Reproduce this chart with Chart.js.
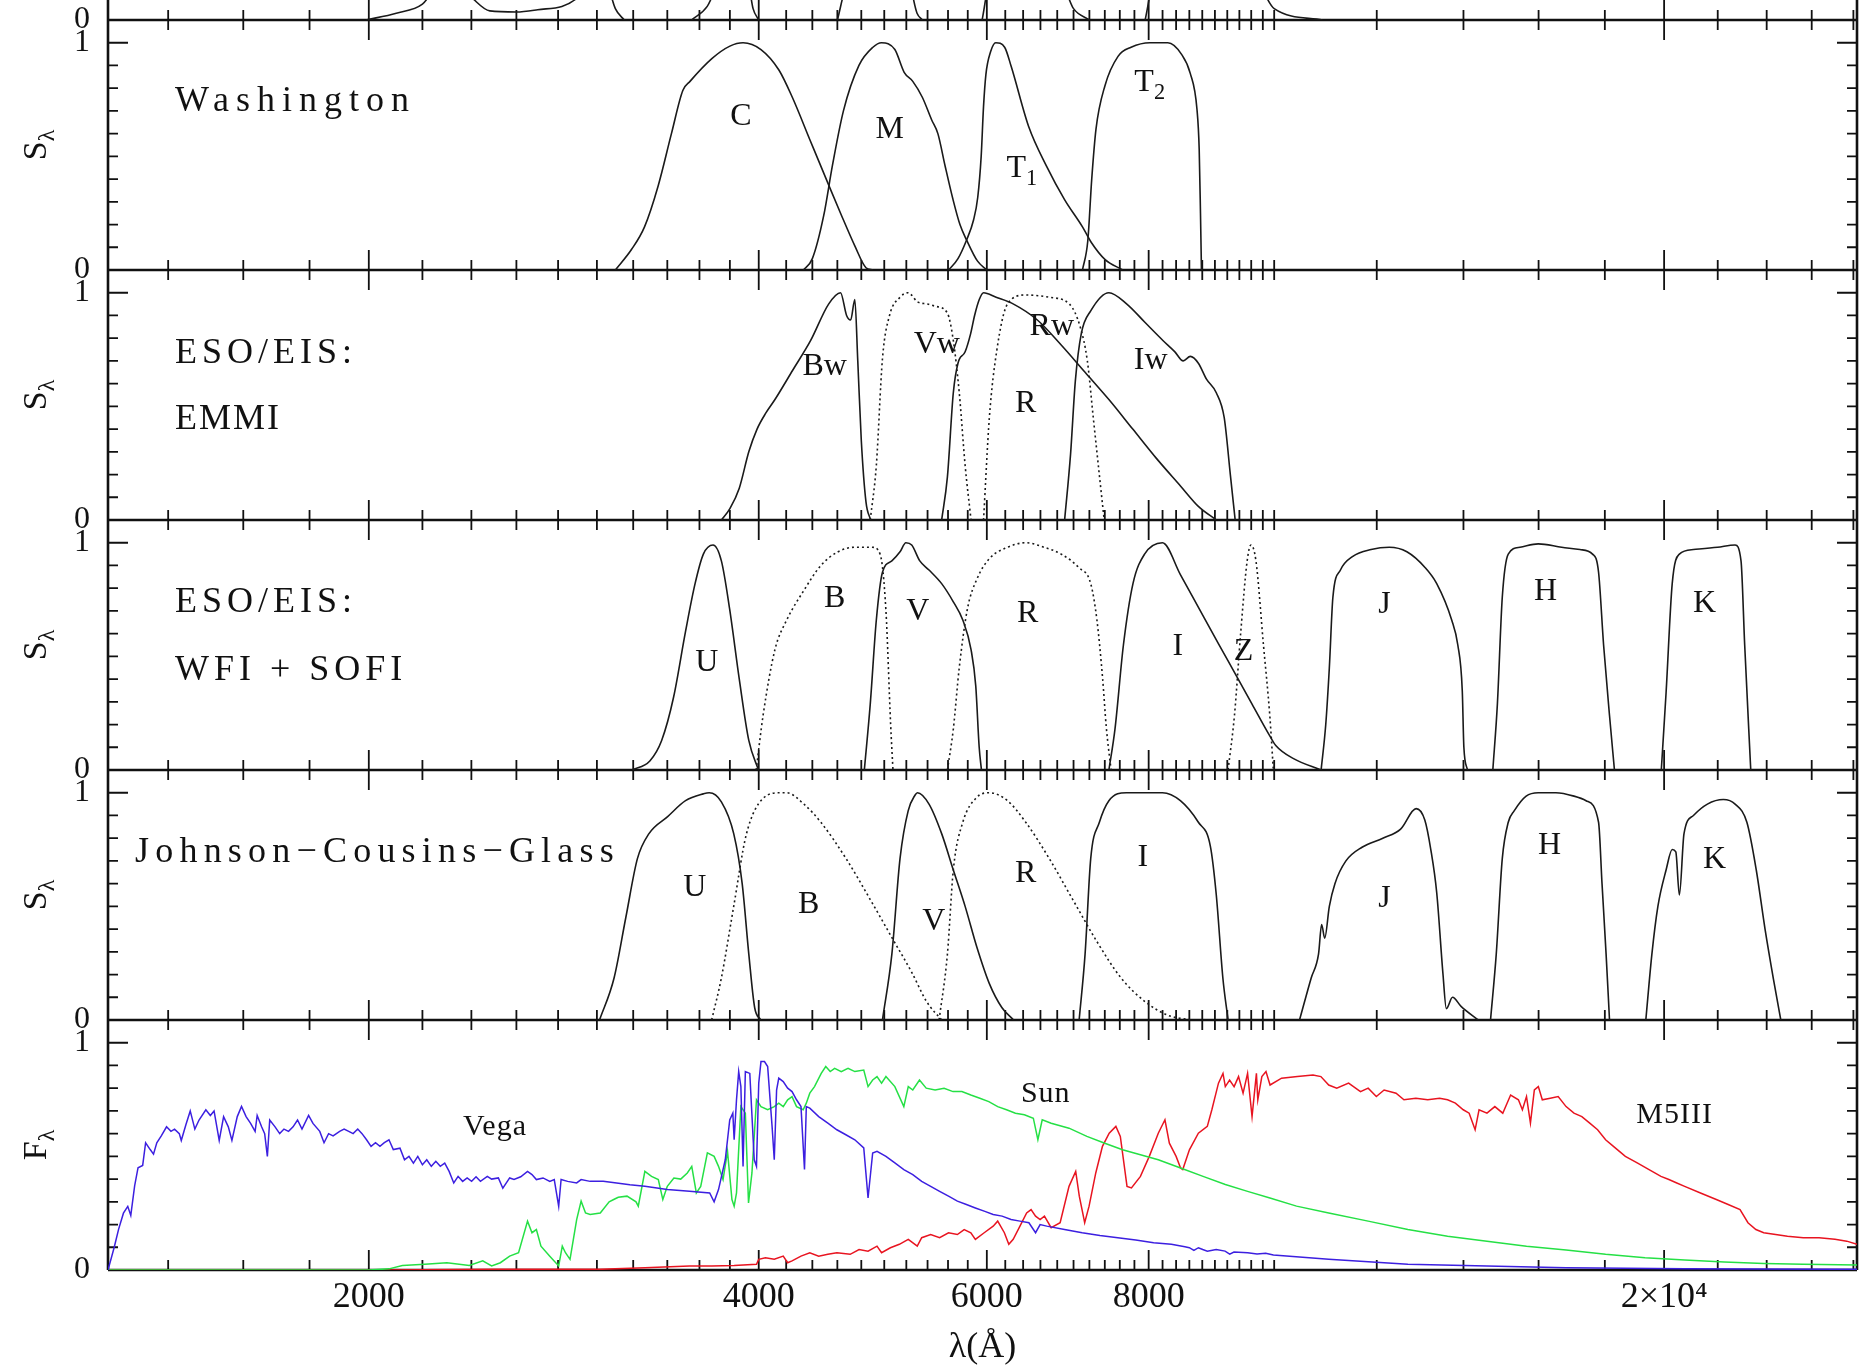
<!DOCTYPE html>
<html>
<head>
<meta charset="utf-8">
<title>Filter systems and stellar spectra</title>
<script src="https://cdn.jsdelivr.net/npm/chart.js@4.4.1/dist/chart.umd.min.js"></script>
<style>
  html, body { margin: 0; padding: 0; background: #fff; }
  #wrap { position: relative; width: 1870px; height: 1369px; overflow: hidden; }
  #wrap canvas { position: absolute; left: 0; top: 0; }
  .lbl { position: absolute; font-family: 'Liberation Serif', 'Times New Roman', serif; color: #111; white-space: nowrap; line-height: 1; }
  .lbl sub { font-size: 70%; vertical-align: -0.35em; line-height: 0; }
  .title { font-size: 36px; letter-spacing: 5px; }
  .band { font-size: 32px; }
  .spec { font-size: 30px; letter-spacing: 1px; }
  .axt { font-size: 34px; }
</style>
</head>
<body>
<div id="wrap"><canvas id="chart" width="1870" height="1369"></canvas></div>
<script>
// ---- axis ticks ----
const xTickValues = [2000, 4000, 6000, 8000, 20000];
const xTickLabels = ['2000', '4000', '6000', '8000', '2×10⁴'];
const xTickMarks = [1400, 1600, 1800, 2000, 2200, 2400, 2600, 2800, 3000, 3200, 3400, 3600, 3800,
  4000, 4200, 4400, 4600, 4800, 5000, 5200, 5400, 5600, 5800, 6000, 6200, 6400, 6600, 6800,
  7000, 7200, 7400, 7600, 7800, 8000, 8200, 8400, 8600, 8800, 9000, 9200, 9400, 9600, 9800,
  10000, 12000, 14000, 16000, 18000, 20000, 22000, 24000, 26000, 28000];
const yLabelValues = [0, 1];
const yTickMarks = [0.1, 0.2, 0.3, 0.4, 0.5, 0.6, 0.7, 0.8, 0.9, 1.0];

// ---- top (cut off) panel: only the feet of the curves show ----
const topA = [[1990,0],[2100,0.03],[2200,0.07],[2300,0.2],[2400,0.1],[2480,0.04],[2600,0.035],[2700,0.045],[2900,0.1],[3000,0.3],[3100,0.05],[3150,0]];
const topB = [[3550,0],[3650,0.06],[3750,0.2],[3900,0.25],[3960,0.05],[4000,0]];
const topC = [[4600,0],[4680,0.15],[5200,0.2],[5300,0.03],[5350,0]];
const topD = [[5950,0],[6050,0.2],[6800,0.2],[7000,0.05],[7200,0]];
const topE = [[7950,0],[8100,0.2],[9600,0.2],[10000,0.05],[10900,0]];

// ---- Washington ----
const washC = [[3100,0],[3190,0.09],[3265,0.19],[3345,0.37],[3425,0.6],[3495,0.79],[3540,0.83],[3680,0.93],[3800,0.985],[3890,1.0],[4016,0.97],[4146,0.88],[4246,0.76],[4383,0.57],[4525,0.38],[4634,0.24],[4746,0.105],[4840,0.01],[4900,0]];
const washM = [[4330,0],[4400,0.05],[4490,0.24],[4560,0.46],[4650,0.7],[4780,0.9],[4900,0.98],[4975,1.0],[5095,0.97],[5180,0.87],[5260,0.83],[5350,0.76],[5440,0.66],[5500,0.6],[5570,0.46],[5650,0.31],[5720,0.2],[5790,0.13],[5900,0.04],[6000,0]];
const washT1 = [[5607,0],[5700,0.05],[5786,0.13],[5860,0.22],[5904,0.32],[5940,0.5],[5965,0.72],[5990,0.86],[6040,0.96],[6096,1.0],[6193,0.98],[6266,0.895],[6464,0.63],[6673,0.456],[6889,0.31],[7112,0.19],[7227,0.12],[7401,0.047],[7640,0]];
const washT2 = [[7112,0],[7180,0.13],[7230,0.4],[7285,0.62],[7401,0.81],[7576,0.94],[7754,0.98],[8019,1.0],[8278,1.0],[8479,0.95],[8614,0.865],[8718,0.705],[8752,0.53],[8772,0.25],[8787,0]];

// ---- ESO/EIS EMMI ----
const emmiBw = [[3743,0],[3800,0.05],[3864,0.14],[3930,0.3],[3988,0.4],[4050,0.47],[4117,0.53],[4250,0.66],[4387,0.79],[4529,0.95],[4626,1.0],[4676,0.9],[4710,0.88],[4745,0.97],[4770,0.7],[4800,0.35],[4840,0.08],[4880,0]];
const emmiVw = [[4877,0],[4930,0.24],[4984,0.71],[5047,0.9],[5142,0.98],[5217,1.0],[5304,0.96],[5400,0.95],[5479,0.94],[5594,0.91],[5653,0.79],[5713,0.56],[5773,0.24],[5834,0]];
const emmiR = [[5537,0],[5594,0.19],[5653,0.56],[5700,0.69],[5773,0.74],[5830,0.82],[5871,0.9],[5920,0.97],[5965,1.0],[6100,0.98],[6292,0.95],[6564,0.88],[6848,0.77],[7145,0.65],[7454,0.53],[7777,0.4],[8114,0.27],[8465,0.15],[8739,0.06],[9022,0]];
const emmiRw = [[5965,0],[6027,0.45],[6105,0.74],[6224,0.95],[6430,0.99],[6705,0.98],[6949,0.95],[7083,0.85],[7174,0.7],[7250,0.45],[7328,0.2],[7392,0]];
const emmiIw = [[6890,0],[6963,0.29],[7022,0.61],[7097,0.82],[7217,0.92],[7454,1.0],[7696,0.95],[7946,0.87],[8205,0.79],[8382,0.74],[8507,0.7],[8615,0.72],[8739,0.69],[8866,0.62],[9022,0.56],[9150,0.45],[9250,0.2],[9330,0]];

// ---- ESO/EIS WFI + SOFI ----
const wfiU = [[3193,0],[3296,0.04],[3366,0.13],[3438,0.32],[3512,0.61],[3572,0.82],[3625,0.95],[3688,0.99],[3743,0.92],[3798,0.71],[3864,0.4],[3930,0.13],[3998,0]];
const wfiB = [[3982,0],[4031,0.24],[4117,0.53],[4204,0.66],[4334,0.79],[4467,0.9],[4605,0.96],[4746,0.98],[4893,0.98],[4963,0.95],[5015,0.7],[5057,0.2],[5078,0]];
const wfiV = [[4826,0],[4877,0.29],[4930,0.66],[4984,0.87],[5068,0.92],[5142,0.96],[5196,1.0],[5250,0.99],[5326,0.92],[5414,0.88],[5537,0.82],[5653,0.74],[5749,0.66],[5834,0.53],[5883,0.37],[5919,0.1],[5943,0]];
const wfiR = [[5594,0],[5653,0.18],[5713,0.45],[5797,0.71],[5895,0.84],[6027,0.93],[6224,0.98],[6430,1.0],[6644,0.98],[6848,0.95],[7068,0.89],[7217,0.82],[7297,0.66],[7372,0.4],[7419,0.19],[7483,0]];
const wfiI = [[7454,0],[7535,0.18],[7649,0.55],[7780,0.82],[7942,0.95],[8199,1.0],[8464,0.86],[8828,0.67],[9213,0.48],[9614,0.29],[9922,0.15],[10028,0.108],[10350,0.05],[10870,0]];
const wfiZ = [[9213,0],[9318,0.24],[9424,0.61],[9531,0.92],[9595,0.99],[9681,0.92],[9811,0.55],[9922,0.24],[9985,0]];
const wfiJ = [[10870,0],[10960,0.2],[11030,0.45],[11100,0.76],[11250,0.88],[11500,0.94],[11880,0.97],[12270,0.98],[12660,0.96],[13080,0.89],[13350,0.82],[13710,0.66],[13860,0.55],[13970,0.35],[14010,0.1],[14100,0]];
const wfiH = [[14750,0],[14870,0.29],[15000,0.76],[15160,0.95],[15480,0.98],[15990,0.995],[16670,0.98],[17220,0.97],[17610,0.95],[17800,0.87],[17960,0.55],[18150,0.24],[18310,0]];
const wfiK = [[19900,0],[20070,0.34],[20290,0.82],[20550,0.95],[21070,0.97],[21990,0.98],[22690,0.99],[22930,0.92],[23080,0.55],[23330,0]];

// ---- Johnson-Cousins-Glass ----
const jcgU = [[3014,0],[3093,0.185],[3158,0.45],[3224,0.71],[3291,0.82],[3402,0.895],[3512,0.965],[3625,0.995],[3663,1.0],[3743,0.96],[3826,0.82],[3884,0.6],[3930,0.29],[3971,0.055],[4014,0]];
const jcgB = [[3679,0],[3743,0.185],[3826,0.5],[3912,0.815],[4031,0.975],[4160,1.0],[4204,1.0],[4334,0.95],[4467,0.87],[4672,0.71],[4877,0.53],[5089,0.345],[5250,0.21],[5392,0.08],[5537,0]];
const jcgV = [[4984,0],[5068,0.29],[5142,0.71],[5217,0.92],[5282,0.99],[5304,1.0],[5414,0.95],[5537,0.82],[5653,0.66],[5773,0.5],[5895,0.32],[6027,0.16],[6162,0.055],[6292,0]];
const jcgR = [[5512,0],[5594,0.29],[5653,0.66],[5749,0.87],[5895,0.98],[6027,1.0],[6224,0.965],[6430,0.87],[6705,0.71],[6990,0.53],[7297,0.345],[7617,0.185],[7952,0.08],[8285,0.02],[8639,0]];
const jcgI = [[7070,0],[7145,0.29],[7217,0.71],[7329,0.87],[7454,0.965],[7690,1.0],[7942,1.0],[8199,1.0],[8464,0.965],[8739,0.87],[8927,0.765],[9022,0.55],[9128,0.185],[9213,0]];
const jcgJ = [[10461,0],[10680,0.185],[10820,0.29],[10880,0.42],[10940,0.36],[11030,0.5],[11140,0.6],[11360,0.7],[11690,0.76],[12130,0.8],[12520,0.84],[12870,0.93],[13070,0.88],[13210,0.75],[13350,0.56],[13500,0.2],[13580,0.05],[13730,0.1],[13940,0.06],[14370,0]];
const jcgH = [[14690,0],[14840,0.29],[15000,0.71],[15160,0.87],[15320,0.92],[15650,0.985],[15990,1.0],[16500,1.0],[17040,0.985],[17410,0.965],[17800,0.87],[17910,0.6],[18040,0.29],[18150,0]];
const jcgK = [[19360,0],[19570,0.29],[19780,0.5],[20070,0.66],[20290,0.75],[20420,0.74],[20550,0.55],[20720,0.82],[21070,0.9],[21600,0.95],[22220,0.97],[22690,0.95],[23170,0.87],[23560,0.66],[23930,0.4],[24290,0.18],[24610,0]];

// ---- spectra (F_lambda, normalised) ----
const vega = [[1258,0],[1272,0.1],[1282,0.18],[1293,0.25],[1303,0.28],[1310,0.24],[1319,0.37],[1327,0.45],[1338,0.46],[1345,0.56],[1356,0.53],[1364,0.51],[1372,0.56],[1383,0.59],[1396,0.63],[1407,0.61],[1416,0.62],[1428,0.6],[1433,0.57],[1445,0.64],[1456,0.7],[1468,0.62],[1479,0.66],[1497,0.705],[1509,0.68],[1519,0.7],[1533,0.57],[1545,0.675],[1558,0.63],[1568,0.57],[1583,0.675],[1595,0.72],[1608,0.675],[1621,0.645],[1634,0.61],[1640,0.68],[1653,0.63],[1662,0.6],[1670,0.5],[1677,0.66],[1693,0.63],[1707,0.6],[1720,0.62],[1734,0.61],[1748,0.63],[1762,0.66],[1776,0.62],[1797,0.68],[1811,0.645],[1833,0.61],[1847,0.56],[1862,0.6],[1877,0.59],[1899,0.61],[1914,0.62],[1930,0.61],[1945,0.6],[1961,0.62],[1976,0.6],[1992,0.573],[2008,0.544],[2024,0.56],[2040,0.544],[2056,0.56],[2073,0.573],[2089,0.53],[2114,0.536],[2131,0.485],[2148,0.5],[2165,0.47],[2182,0.5],[2200,0.463],[2217,0.485],[2235,0.456],[2253,0.478],[2271,0.456],[2289,0.47],[2307,0.434],[2326,0.383],[2344,0.412],[2363,0.39],[2382,0.405],[2401,0.39],[2420,0.41],[2439,0.39],[2469,0.412],[2488,0.4],[2518,0.405],[2538,0.36],[2569,0.405],[2589,0.398],[2620,0.41],[2652,0.434],[2673,0.42],[2694,0.398],[2726,0.405],[2759,0.39],[2781,0.398],[2803,0.28],[2815,0.398],[2848,0.39],[2894,0.383],[2917,0.398],[2964,0.39],[3034,0.39],[3107,0.383],[3181,0.375],[3267,0.368],[3400,0.354],[3537,0.346],[3666,0.339],[3695,0.3],[3724,0.354],[3769,0.485],[3799,0.66],[3820,0.69],[3829,0.573],[3845,0.749],[3860,0.873],[3875,0.807],[3890,0.456],[3906,0.873],[3937,0.865],[3968,0.485],[3984,0.456],[4000,0.822],[4016,0.917],[4041,0.917],[4064,0.895],[4096,0.632],[4112,0.485],[4129,0.792],[4145,0.844],[4178,0.829],[4211,0.8],[4244,0.785],[4278,0.749],[4312,0.719],[4339,0.442],[4353,0.719],[4380,0.712],[4450,0.675],[4523,0.646],[4596,0.617],[4670,0.595],[4745,0.573],[4821,0.537],[4858,0.317],[4898,0.515],[4936,0.522],[5015,0.5],[5095,0.471],[5177,0.442],[5260,0.42],[5344,0.39],[5430,0.368],[5517,0.346],[5605,0.325],[5694,0.303],[5786,0.288],[5879,0.273],[5972,0.259],[6068,0.244],[6165,0.237],[6264,0.222],[6364,0.215],[6466,0.208],[6543,0.164],[6596,0.2],[6675,0.193],[6889,0.178],[7108,0.164],[7336,0.152],[7573,0.142],[7818,0.132],[8071,0.12],[8329,0.113],[8532,0.102],[8600,0.098],[8670,0.086],[8740,0.098],[8807,0.09],[8880,0.083],[9020,0.09],[9164,0.083],[9240,0.07],[9310,0.079],[9539,0.076],[9700,0.07],[9850,0.074],[9986,0.066],[11018,0.047],[12682,0.025],[14597,0.018],[16802,0.01],[20744,0.006],[28180,0.003]];
const sun = [[1258,0],[2000,0],[2073,0.005],[2123,0.02],[2209,0.025],[2298,0.032],[2391,0.02],[2449,0.04],[2488,0.018],[2527,0.032],[2569,0.061],[2610,0.076],[2652,0.215],[2673,0.164],[2694,0.178],[2716,0.105],[2759,0.061],[2803,0.018],[2821,0.105],[2837,0.076],[2860,0.047],[2894,0.222],[2917,0.303],[2940,0.251],[2964,0.244],[3018,0.251],[3066,0.3],[3091,0.31],[3116,0.32],[3165,0.325],[3216,0.3],[3229,0.281],[3267,0.434],[3306,0.412],[3346,0.398],[3373,0.31],[3400,0.368],[3440,0.405],[3482,0.4],[3523,0.427],[3551,0.456],[3580,0.339],[3608,0.368],[3651,0.515],[3695,0.5],[3724,0.456],[3754,0.398],[3784,0.522],[3814,0.31],[3829,0.281],[3845,0.339],[3875,0.719],[3906,0.69],[3928,0.295],[3952,0.427],[3984,0.749],[4016,0.719],[4064,0.705],[4112,0.719],[4145,0.734],[4178,0.719],[4211,0.749],[4244,0.763],[4278,0.719],[4329,0.705],[4353,0.734],[4380,0.778],[4417,0.807],[4470,0.865],[4506,0.895],[4542,0.873],[4578,0.887],[4632,0.873],[4688,0.887],[4745,0.873],[4821,0.88],[4858,0.807],[4898,0.836],[4936,0.851],[4976,0.822],[5015,0.851],[5095,0.807],[5177,0.719],[5218,0.807],[5260,0.792],[5323,0.836],[5387,0.8],[5473,0.792],[5561,0.8],[5650,0.785],[5740,0.785],[5832,0.77],[5926,0.756],[6021,0.741],[6117,0.719],[6214,0.705],[6313,0.69],[6414,0.683],[6517,0.668],[6570,0.573],[6621,0.661],[6727,0.646],[6944,0.624],[7168,0.588],[7400,0.558],[7637,0.529],[7884,0.507],[8138,0.485],[8467,0.449],[8812,0.412],[9168,0.376],[9538,0.346],[9925,0.317],[10405,0.281],[11018,0.251],[11818,0.215],[12682,0.178],[13610,0.149],[14597,0.127],[15660,0.105],[16802,0.088],[18024,0.069],[19334,0.054],[20744,0.044],[22256,0.035],[23874,0.029],[25612,0.025],[28180,0.022]];
const m5iii = [[1258,0],[2073,0],[2500,0.003],[3018,0.003],[3267,0.01],[3537,0.018],[3680,0.018],[3829,0.02],[3984,0.025],[4000,0.047],[4048,0.054],[4112,0.047],[4178,0.061],[4211,0.032],[4244,0.04],[4312,0.061],[4380,0.076],[4450,0.061],[4523,0.069],[4596,0.076],[4706,0.069],[4781,0.09],[4858,0.083],[4936,0.105],[4976,0.076],[5055,0.098],[5136,0.113],[5218,0.135],[5302,0.105],[5344,0.142],[5430,0.156],[5517,0.142],[5605,0.164],[5694,0.156],[5763,0.178],[5832,0.164],[5879,0.135],[5972,0.164],[6068,0.193],[6117,0.215],[6190,0.164],[6239,0.113],[6288,0.135],[6364,0.193],[6440,0.251],[6491,0.266],[6543,0.237],[6596,0.222],[6647,0.237],[6727,0.186],[6835,0.208],[6944,0.368],[7027,0.434],[7072,0.325],[7140,0.208],[7196,0.281],[7282,0.427],[7369,0.544],[7458,0.602],[7547,0.632],[7607,0.588],[7698,0.368],[7759,0.361],[7884,0.412],[8009,0.5],[8138,0.602],[8235,0.661],[8300,0.558],[8400,0.5],[8467,0.449],[8500,0.442],[8601,0.529],[8739,0.602],[8879,0.632],[8951,0.705],[9057,0.822],[9130,0.865],[9168,0.807],[9238,0.836],[9312,0.807],[9386,0.851],[9462,0.778],[9538,0.865],[9614,0.675],[9689,0.865],[9713,0.749],[9783,0.851],[9855,0.873],[9927,0.814],[10132,0.844],[10421,0.851],[10714,0.858],[10866,0.851],[11018,0.814],[11176,0.8],[11414,0.822],[11658,0.785],[11818,0.8],[11991,0.763],[12158,0.792],[12419,0.778],[12594,0.749],[12864,0.756],[13138,0.749],[13418,0.756],[13610,0.749],[13800,0.734],[13995,0.705],[14142,0.69],[14293,0.617],[14393,0.705],[14597,0.69],[14803,0.719],[15013,0.69],[15224,0.77],[15437,0.749],[15546,0.705],[15660,0.763],[15770,0.646],[15880,0.792],[15993,0.807],[16106,0.749],[16336,0.756],[16567,0.763],[16802,0.719],[17038,0.69],[17279,0.675],[17523,0.646],[17770,0.617],[18024,0.573],[18277,0.544],[18668,0.5],[19066,0.471],[19472,0.442],[19888,0.412],[20170,0.398],[20456,0.383],[20744,0.368],[21335,0.339],[21944,0.31],[22412,0.288],[22890,0.266],[23214,0.208],[23544,0.178],[23874,0.164],[24384,0.156],[24904,0.149],[25612,0.142],[26344,0.142],[27096,0.135],[27672,0.127],[28180,0.113]];

// ---- annotations (wavelength, value, panel) ----
const panelTitles = [
  {panel: 'yWash', lam: 1417, val: 0.752, text: 'Washington'},
  {panel: 'yEmmi', lam: 1417, val: 0.744, text: 'ESO/EIS:'},
  {panel: 'yEmmi', lam: 1417, val: 0.453, text: 'EMMI'},
  {panel: 'yWfi', lam: 1417, val: 0.748, text: 'ESO/EIS:'},
  {panel: 'yWfi', lam: 1417, val: 0.449, text: 'WFI + SOFI'},
  {panel: 'yJcg', lam: 1320, val: 0.748, text: 'Johnson−Cousins−Glass'}
];
// letter spacing (px) that gives each title its plotted width
const titleSpacing = {'Washington': 7, 'ESO/EIS:': 5, 'EMMI': 2, 'WFI + SOFI': 5, 'Johnson−Cousins−Glass': 6.2};
const bandNames = [
  {panel: 'yWash', lam: 3875, val: 0.686, text: 'C'},
  {panel: 'yWash', lam: 5048, val: 0.629, text: 'M'},
  {panel: 'yWash', lam: 6386, val: 0.458, text: 'T<sub>1</sub>'},
  {panel: 'yWash', lam: 8015, val: 0.836, text: 'T<sub>2</sub>'},
  {panel: 'yEmmi', lam: 4498, val: 0.686, text: 'Bw'},
  {panel: 'yEmmi', lam: 5489, val: 0.783, text: 'Vw'},
  {panel: 'yEmmi', lam: 6735, val: 0.862, text: 'Rw'},
  {panel: 'yEmmi', lam: 6430, val: 0.524, text: 'R'},
  {panel: 'yEmmi', lam: 8028, val: 0.713, text: 'Iw'},
  {panel: 'yWfi', lam: 3647, val: 0.484, text: 'U'},
  {panel: 'yWfi', lam: 4579, val: 0.766, text: 'B'},
  {panel: 'yWfi', lam: 5308, val: 0.708, text: 'V'},
  {panel: 'yWfi', lam: 6453, val: 0.70, text: 'R'},
  {panel: 'yWfi', lam: 8424, val: 0.554, text: 'I'},
  {panel: 'yWfi', lam: 9470, val: 0.532, text: 'Z'},
  {panel: 'yWfi', lam: 12168, val: 0.739, text: 'J'},
  {panel: 'yWfi', lam: 16201, val: 0.796, text: 'H'},
  {panel: 'yWfi', lam: 21494, val: 0.744, text: 'K'},
  {panel: 'yJcg', lam: 3570, val: 0.594, text: 'U'},
  {panel: 'yJcg', lam: 4371, val: 0.519, text: 'B'},
  {panel: 'yJcg', lam: 5461, val: 0.444, text: 'V'},
  {panel: 'yJcg', lam: 6430, val: 0.656, text: 'R'},
  {panel: 'yJcg', lam: 7916, val: 0.726, text: 'I'},
  {panel: 'yJcg', lam: 12168, val: 0.546, text: 'J'},
  {panel: 'yJcg', lam: 16317, val: 0.779, text: 'H'},
  {panel: 'yJcg', lam: 21880, val: 0.717, text: 'K'}
];
const starNames = [
  {panel: 'ySpec', lam: 2503, val: 0.638, text: 'Vega'},
  {panel: 'ySpec', lam: 6663, val: 0.783, text: 'Sun'},
  {panel: 'ySpec', lam: 20376, val: 0.691, text: 'M5III'}
];

// ---- panels, top to bottom ----
const panels = [
  {id: 'yTop', max: 0.088, weight: 0.08, title: null},
  {id: 'yWash', max: 1.1, weight: 1, title: 'S<sub>λ</sub>'},
  {id: 'yEmmi', max: 1.1, weight: 1, title: 'S<sub>λ</sub>'},
  {id: 'yWfi', max: 1.1, weight: 1, title: 'S<sub>λ</sub>'},
  {id: 'yJcg', max: 1.1, weight: 1, title: 'S<sub>λ</sub>'},
  {id: 'ySpec', max: 1.1, weight: 1, title: 'F<sub>λ</sub>'}
];

const FONT = "'Liberation Serif', 'Times New Roman', serif";
const INK = '#111';

function curve(points, yAxisID, dotted) {
  return {
    data: points.map(p => ({x: p[0], y: p[1]})),
    xAxisID: 'x',
    yAxisID: yAxisID,
    borderColor: '#1a1a1a',
    borderWidth: 1.6,
    borderDash: dotted ? [2, 3] : [],
    pointRadius: 0,
    fill: false,
    cubicInterpolationMode: 'monotone'
  };
}

function spectrum(points, color) {
  return {
    data: points.map(p => ({x: p[0], y: p[1]})),
    xAxisID: 'x',
    yAxisID: 'ySpec',
    borderColor: color,
    borderWidth: 1.5,
    pointRadius: 0,
    fill: false,
    tension: 0
  };
}

const datasets = [
  spectrum(vega, '#3c1fe0'),
  spectrum(sun, '#25e045'),
  spectrum(m5iii, '#e81420'),
  curve(topA, 'yTop'), curve(topB, 'yTop'), curve(topC, 'yTop'), curve(topD, 'yTop'), curve(topE, 'yTop'),
  curve(washC, 'yWash'), curve(washM, 'yWash'), curve(washT1, 'yWash'), curve(washT2, 'yWash'),
  curve(emmiBw, 'yEmmi'), curve(emmiVw, 'yEmmi', true), curve(emmiR, 'yEmmi'),
  curve(emmiRw, 'yEmmi', true), curve(emmiIw, 'yEmmi'),
  curve(wfiU, 'yWfi'), curve(wfiB, 'yWfi', true), curve(wfiV, 'yWfi'), curve(wfiR, 'yWfi', true),
  curve(wfiI, 'yWfi'), curve(wfiZ, 'yWfi', true), curve(wfiJ, 'yWfi'), curve(wfiH, 'yWfi'), curve(wfiK, 'yWfi'),
  curve(jcgU, 'yJcg'), curve(jcgB, 'yJcg', true), curve(jcgV, 'yJcg'), curve(jcgR, 'yJcg', true),
  curve(jcgI, 'yJcg'), curve(jcgJ, 'yJcg'), curve(jcgH, 'yJcg'), curve(jcgK, 'yJcg')
];

const scales = {
  x: {
    type: 'logarithmic',
    position: 'bottom',
    min: 1258,
    max: 28180,
    grid: {display: false, drawTicks: false},
    border: {display: false},
    ticks: {
      autoSkip: false,
      maxRotation: 0,
      padding: 6,
      color: INK,
      font: {family: FONT, size: 36},
      callback: v => xTickLabels[xTickValues.indexOf(v)]
    },
    afterBuildTicks: s => { s.ticks = xTickValues.map(v => ({value: v})); },
    afterFit: s => { s.height = 99; s.paddingLeft = 0; s.paddingRight = 0; },
    title: {display: true, text: 'λ(Å)', color: INK, font: {family: FONT, size: 36}, padding: {top: 0, bottom: 0}}
  }
};

// the layout stacks these axes bottom-up, so register them in reverse
panels.slice().reverse().forEach(p => {
  scales[p.id] = {
    type: 'linear',
    position: 'left',
    stack: 'panels',
    stackWeight: p.weight,
    min: 0,
    max: p.max,
    grid: {display: false, drawTicks: false},
    border: {display: false},
    ticks: {
      autoSkip: false,
      padding: 18,
      color: INK,
      font: {family: FONT, size: 32},
      callback: v => String(v)
    },
    afterBuildTicks: s => { s.ticks = yLabelValues.filter(v => v <= s.max).map(v => ({value: v})); },
    // fixed gutter, and no extra room for labels so the panels fill the canvas height
    afterFit: s => { s.width = 108; s.paddingTop = 0; s.paddingBottom = 0; }
  };
});

// frame of each panel with PGPLOT-style inward ticks
const framePlugin = {
  id: 'panelFrame',
  beforeDatasetsDraw(chart) {
    const {ctx, chartArea} = chart;
    const xs = chart.scales.x;
    const left = chartArea.left, right = chartArea.right;
    const topId = panels[0].id;
    ctx.save();
    ctx.strokeStyle = INK;
    ctx.lineCap = 'butt';

    ctx.lineWidth = 2.6;
    ctx.beginPath();
    ctx.moveTo(left, chartArea.top); ctx.lineTo(left, chartArea.bottom);
    ctx.moveTo(right, chartArea.top); ctx.lineTo(right, chartArea.bottom);
    panels.forEach(p => {
      const ys = chart.scales[p.id];
      ctx.moveTo(left, ys.bottom); ctx.lineTo(right, ys.bottom);
    });
    ctx.stroke();

    ctx.lineWidth = 1.8;
    ctx.beginPath();
    panels.forEach(p => {
      const ys = chart.scales[p.id];
      const full = p.id !== topId;
      xTickMarks.forEach(v => {
        const px = xs.getPixelForValue(v);
        const len = xTickValues.includes(v) ? 20 : 10;
        ctx.moveTo(px, ys.bottom); ctx.lineTo(px, ys.bottom - len);
        if (full) { ctx.moveTo(px, ys.top); ctx.lineTo(px, ys.top + len); }
      });
      if (full) {
        yTickMarks.forEach(v => {
          const py = ys.getPixelForValue(v);
          const len = v === 1 ? 20 : 10;
          ctx.moveTo(left, py); ctx.lineTo(left + len, py);
          ctx.moveTo(right, py); ctx.lineTo(right - len, py);
        });
      }
    });
    ctx.stroke();
    ctx.restore();
  }
};

const chart = new Chart(document.getElementById('chart'), {
  type: 'line',
  data: {datasets},
  options: {
    responsive: false,
    animation: false,
    devicePixelRatio: 1,
    events: [],
    layout: {padding: {left: 0, right: 13, top: 0, bottom: 0}},
    scales,
    plugins: {legend: {display: false}, tooltip: {enabled: false}}
  },
  plugins: [framePlugin]
});

// text annotations placed through the chart scales
const wrap = document.getElementById('wrap');
function addText(html, cls, x, y, transform) {
  const el = document.createElement('div');
  el.className = 'lbl ' + cls;
  el.innerHTML = html;
  el.style.left = x + 'px';
  el.style.top = y + 'px';
  el.style.transform = transform;
  wrap.appendChild(el);
  return el;
}
function place(list, cls, leftAligned) {
  list.forEach(l => {
    const x = chart.scales.x.getPixelForValue(l.lam);
    const y = chart.scales[l.panel].getPixelForValue(l.val);
    const el = addText(l.text, cls, x, y, leftAligned ? 'translate(0,-50%)' : 'translate(-50%,-50%)');
    if (cls === 'title' && titleSpacing[l.text] !== undefined) el.style.letterSpacing = titleSpacing[l.text] + 'px';
  });
}
place(panelTitles, 'title', true);
place(bandNames, 'band', false);
place(starNames, 'spec', false);
panels.forEach(p => {
  if (!p.title) return;
  const ys = chart.scales[p.id];
  addText(p.title, 'axt', 35, (ys.top + ys.bottom) / 2, 'translate(-50%,-50%) rotate(-90deg)');
});
</script>
</body>
</html>
